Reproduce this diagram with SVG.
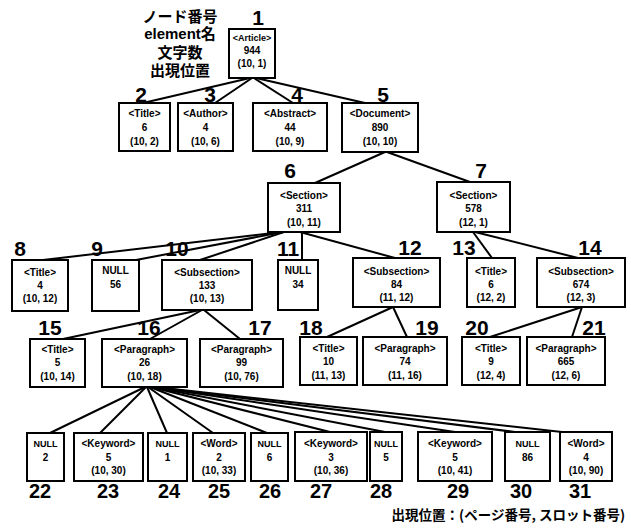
<svg xmlns="http://www.w3.org/2000/svg" width="631" height="529" viewBox="0 0 631 529">
<style>
.bg{fill:#fff}
.box{fill:#fff;stroke:#000;stroke-width:2}
.t{font-family:"Liberation Sans","Noto Sans CJK JP",sans-serif;font-weight:bold;font-size:10px;text-anchor:middle;fill:#000}
.s{font-size:9px}
.n{font-family:"Liberation Sans",sans-serif;font-weight:bold;font-size:21px;text-anchor:middle;fill:#000}
.b{font-size:20px}
.jp{font-family:"Liberation Sans","Noto Sans CJK JP",sans-serif;font-weight:bold;font-size:15px;text-anchor:middle;fill:#000}
.ft{font-family:"Noto Sans CJK JP",sans-serif;font-weight:bold;font-size:13.5px;text-anchor:end;fill:#000}
#edges line{stroke:#000;stroke-width:2}
</style>
<rect class="bg" x="0" y="0" width="631" height="529"/>
<g id="legend">
<text class="jp" x="180" y="22">ノード番号</text>
<text class="jp" x="180" y="39">element名</text>
<text class="jp" x="180" y="58">文字数</text>
<text class="jp" x="180" y="76">出現位置</text>
</g>
<g id="edges">
<line x1="250" y1="78" x2="143" y2="103"/>
<line x1="252" y1="78" x2="215" y2="103"/>
<line x1="254" y1="78" x2="293" y2="103"/>
<line x1="256" y1="78" x2="365" y2="103"/>
<line x1="385" y1="152" x2="315" y2="183"/>
<line x1="387" y1="152" x2="470" y2="182"/>
<line x1="282" y1="232" x2="43" y2="260"/>
<line x1="283" y1="232" x2="136" y2="260"/>
<line x1="284" y1="232" x2="200" y2="260"/>
<line x1="302" y1="232" x2="302" y2="260"/>
<line x1="300" y1="232" x2="395" y2="258"/>
<line x1="473" y1="232" x2="492" y2="258"/>
<line x1="475" y1="232" x2="578" y2="258"/>
<line x1="200" y1="310" x2="63" y2="339"/>
<line x1="202" y1="310" x2="150" y2="339"/>
<line x1="204" y1="310" x2="240" y2="339"/>
<line x1="393" y1="307" x2="327" y2="337"/>
<line x1="393" y1="307" x2="407" y2="337"/>
<line x1="582" y1="307" x2="490" y2="337"/>
<line x1="582" y1="307" x2="572" y2="337"/>
<line x1="145" y1="387" x2="50" y2="433"/>
<line x1="146" y1="387" x2="100" y2="433"/>
<line x1="147" y1="387" x2="167" y2="433"/>
<line x1="148" y1="387" x2="213" y2="433"/>
<line x1="150" y1="387" x2="267" y2="433"/>
<line x1="151" y1="387" x2="330" y2="432"/>
<line x1="152" y1="387" x2="385" y2="432"/>
<line x1="153" y1="387" x2="455" y2="432"/>
<line x1="154" y1="387" x2="515" y2="432"/>
<line x1="155" y1="387" x2="562" y2="432"/>
</g>
<g id="n1"><rect class="box" x="229" y="29" width="46" height="49"/><text class="n" x="258" y="25">1</text><text class="t s" x="252" y="40.5">&lt;Article&gt;</text><text class="t" x="252" y="53.5">944</text><text class="t" x="252" y="66.5">(10, 1)</text></g>
<g id="n2"><rect class="box" x="119" y="103" width="51" height="48"/><text class="n" x="141" y="102">2</text><text class="t" x="144.5" y="116.5">&lt;Title&gt;</text><text class="t" x="144.5" y="130.5">6</text><text class="t" x="144.5" y="144.5">(10, 2)</text></g>
<g id="n3"><rect class="box" x="178" y="103" width="55" height="48"/><text class="n" x="210" y="102">3</text><text class="t" x="205.5" y="116.5">&lt;Author&gt;</text><text class="t" x="205.5" y="130.5">4</text><text class="t" x="205.5" y="144.5">(10, 6)</text></g>
<g id="n4"><rect class="box" x="253" y="103" width="74" height="48"/><text class="n" x="297" y="102">4</text><text class="t" x="290" y="116.5">&lt;Abstract&gt;</text><text class="t" x="290" y="130.5">44</text><text class="t" x="290" y="144.5">(10, 9)</text></g>
<g id="n5"><rect class="box" x="342" y="103" width="76" height="49"/><text class="n" x="383" y="102">5</text><text class="t" x="380" y="116.5">&lt;Document&gt;</text><text class="t" x="380" y="130.5">890</text><text class="t" x="380" y="144.5">(10, 10)</text></g>
<g id="n6"><rect class="box" x="268" y="183" width="72" height="49"/><text class="n" x="290" y="178">6</text><text class="t" x="304" y="198.5">&lt;Section&gt;</text><text class="t" x="304" y="211.5">311</text><text class="t" x="304" y="225.5">(10, 11)</text></g>
<g id="n7"><rect class="box" x="437" y="182" width="73" height="50"/><text class="n" x="481" y="178">7</text><text class="t" x="473.5" y="198.5">&lt;Section&gt;</text><text class="t" x="473.5" y="211.5">578</text><text class="t" x="473.5" y="225.5">(12, 1)</text></g>
<g id="n8"><rect class="box" x="12" y="260" width="56" height="51"/><text class="n" x="20" y="256">8</text><text class="t" x="40" y="275.5">&lt;Title&gt;</text><text class="t" x="40" y="288.5">4</text><text class="t" x="40" y="301.5">(10, 12)</text></g>
<g id="n9"><rect class="box" x="92" y="260" width="47" height="51"/><text class="n" x="97" y="256">9</text><text class="t" x="115.5" y="273.5">NULL</text><text class="t" x="115.5" y="287.5">56</text></g>
<g id="n10"><rect class="box" x="162" y="260" width="90" height="50"/><text class="n" x="177" y="256">10</text><text class="t" x="207" y="275.5">&lt;Subsection&gt;</text><text class="t" x="207" y="288.5">133</text><text class="t" x="207" y="301.5">(10, 13)</text></g>
<g id="n11"><rect class="box" x="278" y="260" width="40" height="50"/><text class="n" x="288" y="256">11</text><text class="t" x="298" y="273.5">NULL</text><text class="t" x="298" y="287.5">34</text></g>
<g id="n12"><rect class="box" x="353" y="258" width="87" height="49"/><text class="n" x="410" y="255">12</text><text class="t" x="396.5" y="274.5">&lt;Subsection&gt;</text><text class="t" x="396.5" y="287.5">84</text><text class="t" x="396.5" y="300.5">(11, 12)</text></g>
<g id="n13"><rect class="box" x="467" y="258" width="48" height="49"/><text class="n" x="464" y="255">13</text><text class="t" x="491" y="274.5">&lt;Title&gt;</text><text class="t" x="491" y="287.5">6</text><text class="t" x="491" y="300.5">(12, 2)</text></g>
<g id="n14"><rect class="box" x="537" y="258" width="88" height="49"/><text class="n" x="590" y="255">14</text><text class="t" x="581" y="274.5">&lt;Subsection&gt;</text><text class="t" x="581" y="287.5">674</text><text class="t" x="581" y="300.5">(12, 3)</text></g>
<g id="n15"><rect class="box" x="30" y="339" width="55" height="48"/><text class="n" x="50" y="335">15</text><text class="t" x="57.5" y="352.5">&lt;Title&gt;</text><text class="t" x="57.5" y="365.5">5</text><text class="t" x="57.5" y="379.5">(10, 14)</text></g>
<g id="n16"><rect class="box" x="102" y="339" width="85" height="48"/><text class="n" x="149" y="335">16</text><text class="t" x="144.5" y="352.5">&lt;Paragraph&gt;</text><text class="t" x="144.5" y="365.5">26</text><text class="t" x="144.5" y="379.5">(10, 18)</text></g>
<g id="n17"><rect class="box" x="200" y="339" width="83" height="48"/><text class="n" x="260" y="335">17</text><text class="t" x="241.5" y="352.5">&lt;Paragraph&gt;</text><text class="t" x="241.5" y="365.5">99</text><text class="t" x="241.5" y="379.5">(10, 76)</text></g>
<g id="n18"><rect class="box" x="300" y="337" width="57" height="48"/><text class="n" x="311" y="335">18</text><text class="t" x="328.5" y="351.5">&lt;Title&gt;</text><text class="t" x="328.5" y="364.5">10</text><text class="t" x="328.5" y="378.5">(11, 13)</text></g>
<g id="n19"><rect class="box" x="363" y="337" width="84" height="48"/><text class="n" x="427" y="335">19</text><text class="t" x="405" y="351.5">&lt;Paragraph&gt;</text><text class="t" x="405" y="364.5">74</text><text class="t" x="405" y="378.5">(11, 16)</text></g>
<g id="n20"><rect class="box" x="462" y="337" width="58" height="48"/><text class="n" x="477" y="335">20</text><text class="t" x="491" y="351.5">&lt;Title&gt;</text><text class="t" x="491" y="364.5">9</text><text class="t" x="491" y="378.5">(12, 4)</text></g>
<g id="n21"><rect class="box" x="527" y="337" width="78" height="48"/><text class="n" x="594" y="335">21</text><text class="t" x="566" y="351.5">&lt;Paragraph&gt;</text><text class="t" x="566" y="364.5">665</text><text class="t" x="566" y="378.5">(12, 6)</text></g>
<g id="n22"><rect class="box" x="27" y="433" width="37" height="48"/><text class="n b" x="40" y="498">22</text><text class="t s" x="45.5" y="446.5">NULL</text><text class="t" x="45.5" y="460.5">2</text></g>
<g id="n23"><rect class="box" x="74" y="433" width="69" height="48"/><text class="n b" x="108" y="498">23</text><text class="t" x="108.5" y="446.5">&lt;Keyword&gt;</text><text class="t" x="108.5" y="460.5">5</text><text class="t" x="108.5" y="473.5">(10, 30)</text></g>
<g id="n24"><rect class="box" x="148" y="433" width="39" height="48"/><text class="n b" x="169" y="498">24</text><text class="t s" x="167.5" y="446.5">NULL</text><text class="t" x="167.5" y="460.5">1</text></g>
<g id="n25"><rect class="box" x="193" y="433" width="52" height="48"/><text class="n b" x="219" y="498">25</text><text class="t" x="219" y="446.5">&lt;Word&gt;</text><text class="t" x="219" y="460.5">2</text><text class="t" x="219" y="473.5">(10, 33)</text></g>
<g id="n26"><rect class="box" x="251" y="433" width="37" height="48"/><text class="n b" x="270" y="498">26</text><text class="t s" x="269.5" y="446.5">NULL</text><text class="t" x="269.5" y="460.5">6</text></g>
<g id="n27"><rect class="box" x="295" y="432" width="72" height="49"/><text class="n b" x="321" y="498">27</text><text class="t" x="331" y="446.5">&lt;Keyword&gt;</text><text class="t" x="331" y="460.5">3</text><text class="t" x="331" y="473.5">(10, 36)</text></g>
<g id="n28"><rect class="box" x="370" y="432" width="32" height="49"/><text class="n b" x="381" y="498">28</text><text class="t s" x="386" y="446.5">NULL</text><text class="t" x="386" y="460.5">5</text></g>
<g id="n29"><rect class="box" x="418" y="432" width="74" height="49"/><text class="n b" x="458" y="498">29</text><text class="t" x="455" y="446.5">&lt;Keyword&gt;</text><text class="t" x="455" y="460.5">5</text><text class="t" x="455" y="473.5">(10, 41)</text></g>
<g id="n30"><rect class="box" x="505" y="432" width="45" height="49"/><text class="n b" x="521" y="498">30</text><text class="t s" x="527.5" y="446.5">NULL</text><text class="t" x="527.5" y="460.5">86</text></g>
<g id="n31"><rect class="box" x="560" y="432" width="52" height="49"/><text class="n b" x="580" y="498">31</text><text class="t" x="586" y="446.5">&lt;Word&gt;</text><text class="t" x="586" y="460.5">4</text><text class="t" x="586" y="473.5">(10, 90)</text></g>
<g id="footer"><text class="ft" x="625" y="520">出現位置：(ページ番号, スロット番号)</text></g>
</svg>
